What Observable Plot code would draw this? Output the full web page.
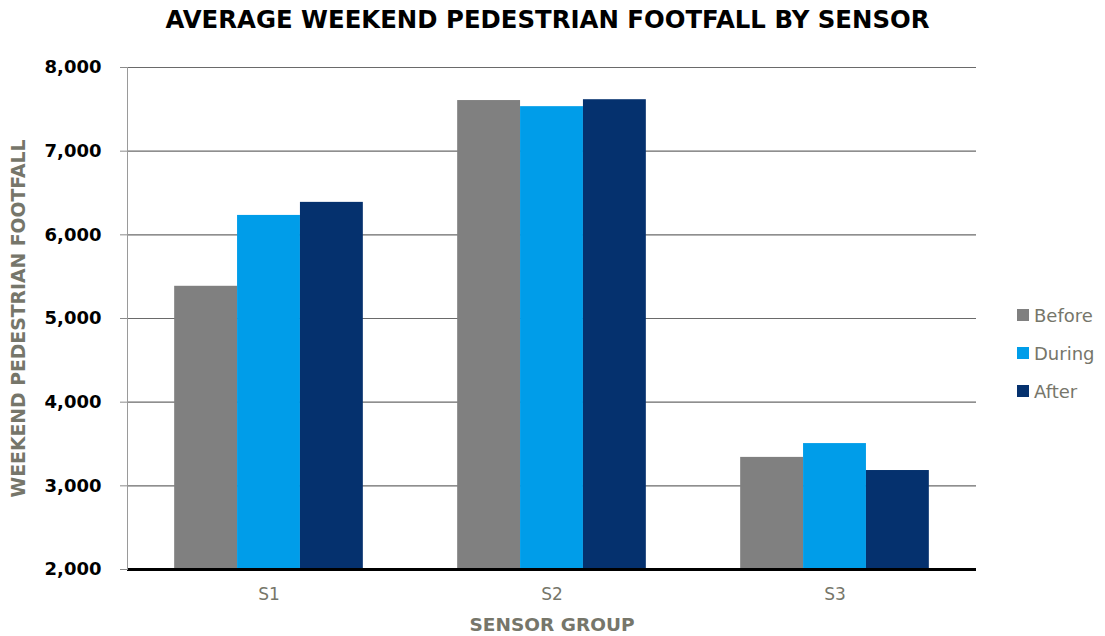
<!DOCTYPE html>
<html><head><meta charset="utf-8">
<script src="https://cdn.jsdelivr.net/npm/d3@7"></script>
<script src="https://cdn.jsdelivr.net/npm/@observablehq/plot@0.6"></script>
<style>
body{margin:0;background:#fff;}
#wrap{position:relative;width:1105px;height:636px;font-family:"DejaVu Sans",Verdana,sans-serif;}
#wrap svg{position:absolute;left:0;top:0;}
#title{position:absolute;left:-5px;width:1105px;top:5px;text-align:center;font-weight:bold;font-size:24.4px;color:#000;white-space:nowrap;}
#legend{position:absolute;left:1017px;top:296px;}
.li{display:flex;align-items:center;height:38px;font-size:18px;color:#76766a;}
.sw{width:12px;height:12px;margin-right:5px;}
</style></head>
<body><div id="wrap"><div id="title">AVERAGE WEEKEND PEDESTRIAN FOOTFALL BY SENSOR</div><div id="legend"></div></div>
<script>
const sensors = ["S1", "S2", "S3"];
const periods = ["Before", "During", "After"];
const before = [5385, 7605, 3340];
const during = [6232, 7532, 3505];
const after = [6388, 7615, 3183];
const yTicks = [2000, 3000, 4000, 5000, 6000, 7000, 8000];
const colors = ["#808080", "#009de9", "#05316e"];
const yTitle = "WEEKEND PEDESTRIAN FOOTFALL";
const xTitle = "SENSOR GROUP";

const series = [before, during, after];
const data = sensors.flatMap((s, i) => periods.map((p, j) => ({sensor: s, period: p, value: series[j][i]})));
const gray = "#76766a";

const chart = Plot.plot({
  width: 1105, height: 636,
  marginLeft: 126, marginRight: 129, marginTop: 67, marginBottom: 67,
  style: {fontFamily: '"DejaVu Sans", Verdana, sans-serif', background: "transparent", overflow: "visible"},
  fx: {domain: sensors, padding: 0, round: true},
  x: {domain: periods, paddingInner: 0, paddingOuter: 0.75, round: false, axis: null},
  y: {domain: [yTicks[0], yTicks[yTicks.length - 1]], axis: null},
  color: {domain: periods, range: colors},
  marks: [
    Plot.ruleY(yTicks.slice(1), {stroke: "#6a6a6a", strokeWidth: 1.2}),
    Plot.barY(data, {fx: "sensor", x: "period", y1: yTicks[0], y2: "value", fill: "period"}),
    Plot.ruleY([yTicks[0]], {stroke: "#000", strokeWidth: 3}),
    Plot.frame({anchor: "left", facetAnchor: "left", stroke: "#9a9a9a"}),
    Plot.axisY(yTicks, {tickFormat: d3.format(","), tickSize: 7, tickPadding: 19, stroke: "#8a8a8a", fill: "#000", fontWeight: "bold", fontSize: 18, label: null}),
    Plot.text([yTitle], {frameAnchor: "left", textAnchor: "middle", dx: -109, rotate: -90, facetAnchor: "left", fill: gray, fontWeight: "bold", fontSize: 18.8}),
    Plot.axisFx({anchor: "bottom", tickSize: 0, tickPadding: 18, fill: gray, fontSize: 17, label: null}),
    Plot.axisFx([], {anchor: "bottom", label: xTitle, labelAnchor: "center", labelOffset: 61, fill: gray, fontWeight: "bold", fontSize: 18.5})
  ]
});
document.getElementById("wrap").appendChild(chart);

const legend = document.getElementById("legend");
periods.forEach((p, i) => {
  const row = document.createElement("div"); row.className = "li";
  const sw = document.createElement("span"); sw.className = "sw"; sw.style.background = colors[i];
  row.appendChild(sw); row.appendChild(document.createTextNode(p));
  legend.appendChild(row);
});
</script></body></html>
